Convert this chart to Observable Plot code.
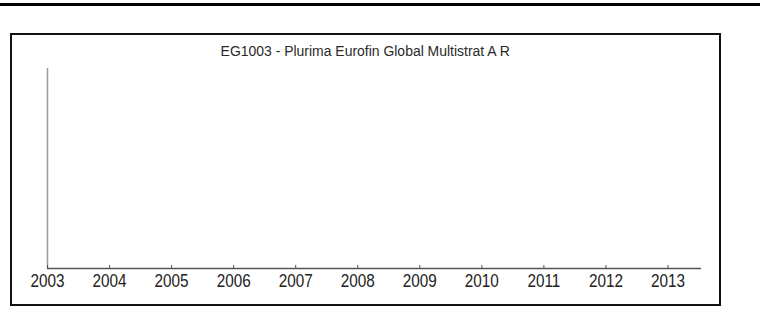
<!DOCTYPE html>
<html><head><meta charset="utf-8">
<script src="https://cdn.jsdelivr.net/npm/d3@7"></script>
<script src="https://cdn.jsdelivr.net/npm/@observablehq/plot@0.6"></script>
<style>
html,body{margin:0;padding:0;background:#fff;width:760px;height:329px;overflow:hidden;position:relative}
#topline{position:absolute;left:0;top:3px;width:760px;height:2.5px;background:#000}
#box{position:absolute;left:10px;top:33px;width:711px;height:273px;box-sizing:border-box;border:2px solid #111;background:#fff}
#title{position:absolute;left:10px;width:710px;top:43px;text-align:center;font-family:"Liberation Sans",Arial,sans-serif;font-size:15.5px;line-height:15px;color:#2a2a2a;white-space:nowrap;transform:scaleX(0.9);transform-origin:357px 0}
#chart{position:absolute;left:0;top:0}
#chart svg{background:transparent}
</style>
</head><body>
<div id="topline"></div>
<div id="box"></div>
<div id="title"></div>
<div id="chart"></div>
<script>
const chartTitle = "EG1003 - Plurima Eurofin Global Multistrat A R";
const years = [2003, 2004, 2005, 2006, 2007, 2008, 2009, 2010, 2011, 2012, 2013];
const xDomain = [2003, 2013.54];
const yDomain = [0, 1];

document.getElementById("title").textContent = chartTitle;

const plot = Plot.plot({
  width: 760,
  height: 329,
  marginLeft: 47,
  marginRight: 59,
  marginTop: 68,
  marginBottom: 61,
  style: {background: "transparent", fontFamily: "'Liberation Sans',Arial,sans-serif", fontSize: "18px", color: "#222"},
  x: {domain: xDomain},
  y: {domain: yDomain, axis: null},
  marks: [
    Plot.axisX(years, {tickSize: 0, tickPadding: 6, tickFormat: d => String(d), fontSize: 18, fill: "#222"}),
    Plot.ruleX([xDomain[0]], {y1: d => yDomain[0], y2: d => yDomain[1], stroke: "#9a9a9a", strokeWidth: 1.5}),
    Plot.ruleY([yDomain[0]], {x1: d => xDomain[0], x2: d => xDomain[1], stroke: "#555", strokeWidth: 1.5}),
    Plot.ruleX(years, {x: d => d, y1: d => yDomain[0], y2: d => 0.015, stroke: "#555", strokeWidth: 1})
  ]
});
// condense the tick labels horizontally (the original uses a narrow face)
d3.select(plot).selectAll("g[aria-label='x-axis tick label'] text").each(function() {
  const t = this.getAttribute("transform") || "";
  this.setAttribute("transform", t + " scale(0.85,1)");
});
document.getElementById("chart").appendChild(plot);
</script>
</body></html>
